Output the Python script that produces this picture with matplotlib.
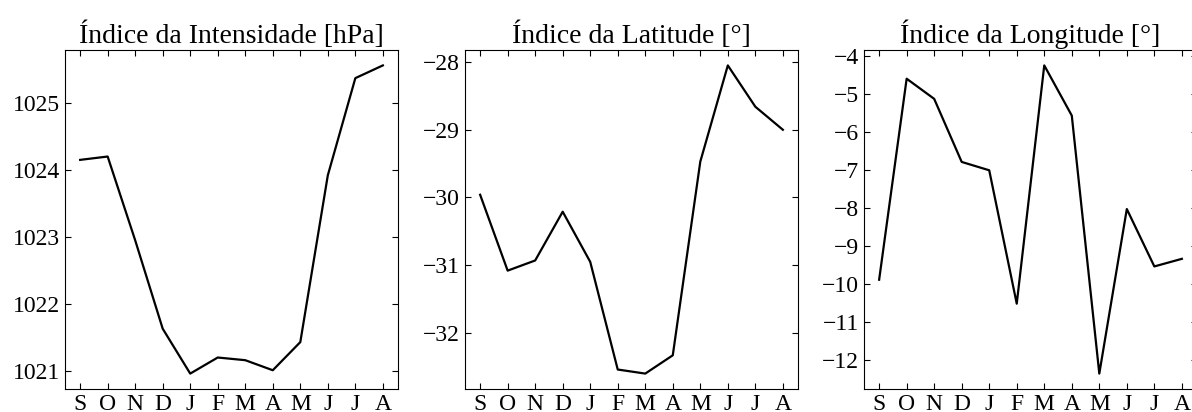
import matplotlib.pyplot as plt
from matplotlib.ticker import MultipleLocator
import numpy as np

plt.rcParams['font.family'] = ['Liberation Serif', 'DejaVu Serif']
plt.rcParams['font.size'] = 17

# Meses (set a ago)
meses = ['S', 'O', 'N', 'D', 'J', 'F', 'M', 'A', 'M', 'J', 'J', 'A']

# Índices mensais do anticiclone
intensidade = [1024.15, 1024.20, 1022.95, 1021.63, 1020.96, 1021.20,
               1021.16, 1021.01, 1021.43, 1023.92, 1025.37, 1025.56]
latitude = [-29.96, -31.08, -30.93, -30.21, -30.95, -32.54,
            -32.60, -32.33, -29.47, -28.05, -28.66, -29.00]
longitude = [-9.88, -4.59, -5.12, -6.78, -7.00, -10.51,
             -4.24, -5.56, -12.35, -8.02, -9.53, -9.33]

titulos = ['Índice da Intensidade [hPa]', 'Índice da Latitude [°]',
           'Índice da Longitude [°]']
series = [intensidade, latitude, longitude]

fig = plt.figure(figsize=(11.92, 4.12), dpi=100)
lefts = [65, 465, 864]
x = np.arange(len(meses))

for left, serie, titulo in zip(lefts, series, titulos):
    ax = fig.add_axes([left / 1192, 23 / 412, 333 / 1192, 339 / 412])
    ax.plot(x, serie, color='black', lw=1.6)
    ax.set_title(titulo, fontsize=20, pad=5)
    ax.set_xticks(x)
    ax.set_xticklabels(meses)
    ax.yaxis.set_major_locator(MultipleLocator(1))
    ax.tick_params(direction='in', top=True, right=True, length=4,
                   labelsize=17, pad=3.5)

fig.savefig('out.png', dpi=100)
